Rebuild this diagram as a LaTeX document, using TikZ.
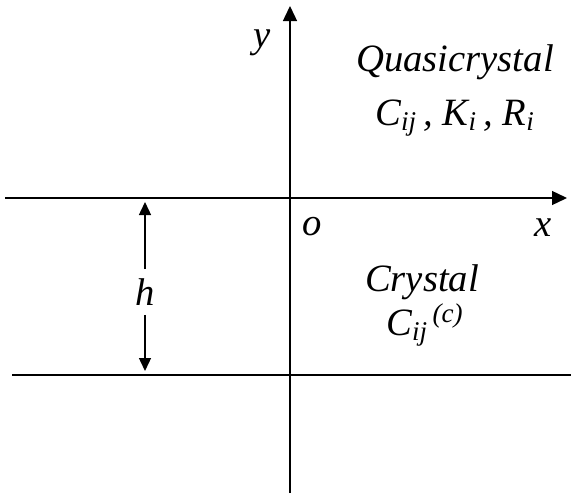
\documentclass[tikz,border=0pt]{standalone}
\usepackage{fontspec}
\setmainfont{Liberation Serif}
\usetikzlibrary{arrows.meta}

\begin{document}
\begin{tikzpicture}[>={Triangle[length=3mm,width=2.8mm]},line width=0.8pt,font=\fontsize{22}{26}\selectfont\itshape]
\useasboundingbox (0,0) rectangle (11.42,9.86);
% axes and interface
\draw[->] (0.1,5.9) -- (11.34,5.9);
\draw[->] (5.8,0) -- (5.8,9.74);
\draw (0.24,2.36) -- (11.42,2.36);
% layer thickness
\coordinate (htop) at (2.9,5.82);
\coordinate (hbot) at (2.9,2.44);
\node[inner sep=5pt] (hlab) at (2.9,4.02) {h};
\draw[->,>={Triangle[length=2.6mm,width=2.4mm]}] (hlab.north) -- (htop);
\draw[->,>={Triangle[length=2.6mm,width=2.4mm]}] (hlab.south) -- (hbot);
% labels
\node (ylab) at (5.24,9.0) {y};
\node (olab) at (6.24,5.32) {o};
\node (xlab) at (10.86,5.3) {x};
\node (quasi) at (9.1,8.62) {Quasicrystal};
\node (qconst) at (9.1,7.5) {C\textsubscript{ij}\,, K\textsubscript{i}\,, R\textsubscript{i}};
\node (cryst) at (8.44,4.22) {Crystal};
\node (cconst) at (8.5,3.36) {C\textsubscript{ij}\textsuperscript{\,(c)}};
\end{tikzpicture}
\end{document}
